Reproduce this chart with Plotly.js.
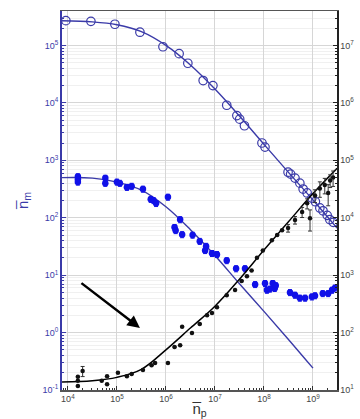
<!DOCTYPE html>
<html>
<head>
<meta charset="utf-8">
<script src="https://cdn.plot.ly/plotly-3.0.1.min.js"></script>
<style>html,body{margin:0;padding:0;background:#fff;}#chart{width:360px;height:419px;}</style>
</head>
<body>
<div id="chart"></div>
<script>
// Upper series: open circles (left axis units)
const openX = [9.1e3, 2.95e4, 9.1e4, 2.95e5, 8.7e5, 1.86e6, 2.8e6, 5.75e6, 9.1e6, 1.74e7, 2.8e7, 3.2e7, 4.0e7, 9.1e7, 1.05e8, 3.1e8, 3.5e8, 4.3e8, 5.4e8, 6.3e8, 7.6e8, 9.5e8, 1.12e9, 1.38e9, 1.6e9, 1.95e9, 2.2e9, 2.6e9];
const openY = [2.7e5, 2.63e5, 2.34e5, 1.70e5, 9.5e4, 7.2e4, 4.9e4, 2.45e4, 2.0e4, 9.1e3, 6.0e3, 5.2e3, 4.0e3, 2.0e3, 1.7e3, 620, 575, 490, 400, 316, 270, 220, 190, 148, 132, 110, 93, 83];
const openFitX = [7.6e3, 3.16e4, 1e5, 3.16e5, 1e6, 3.16e6, 1e7, 3.16e7, 1e8, 3.16e8, 1e9, 3.1e9];
const openFitY = [2.69e5, 2.57e5, 2.29e5, 1.74e5, 1.0e5, 4.57e4, 1.74e4, 5.9e3, 1.9e3, 617, 204, 66];

// Filled blue dots (left axis units)
const blueX = [1.6e4, 1.6e4, 1.6e4, 5.8e4, 5.8e4, 1e5, 1.15e5, 1.6e5, 2.0e5, 3.4e5, 4.9e5, 5.6e5, 6.3e5, 1.1e6, 1.5e6, 1.58e6, 1.95e6, 2.14e6, 3.5e6, 4.9e6, 6.3e6, 6.6e6, 8.7e6, 1.1e7, 1.74e7, 2.7e7, 4.1e7, 6.6e7, 1.05e8, 1.15e8, 1.32e8, 1.51e8, 1.66e8, 1.74e8, 3.4e8, 4.3e8, 5.4e8, 6.9e8, 9.5e8, 1.1e9, 1.58e9, 2.04e9, 2.45e9, 2.8e9];
const blueY = [520, 470, 420, 490, 400, 420, 400, 340, 355, 316, 210, 200, 178, 229, 68, 60, 93, 51, 50, 39, 27, 32, 24, 23, 18, 13, 13, 6.9, 7.2, 5.5, 5.75, 7.2, 5.9, 6.6, 5.0, 4.5, 4.0, 4.0, 4.2, 4.4, 4.8, 4.8, 5.5, 6.0];
const blueFitX = [7.6e3, 3.16e4, 1e5, 3.16e5, 1e6, 3.16e6, 1e7, 3.16e7, 1e8, 3.16e8, 1e9];
const blueFitY = [500, 490, 417, 302, 155, 62, 22, 7.1, 2.34, 0.76, 0.24];

// Black dots (right axis units)
const blackX = [1.6e4, 1.6e4, 1.6e4, 2.0e4, 4.9e4, 6.3e4, 6.3e4, 1.05e5, 1.6e5, 2.0e5, 3.4e5, 5.1e5, 6.0e5, 1.1e6, 1.5e6, 1.95e6, 2.14e6, 3.4e6, 4.9e6, 6.9e6, 8.7e6, 1.1e7, 1.74e7, 2.57e7, 3.5e7, 4.5e7, 5.6e7, 7.2e7, 9.5e7, 1.45e8, 1.86e8, 2.34e8, 3.1e8, 4.3e8, 6.0e8, 7.6e8, 8.7e8, 1.1e9, 1.38e9, 1.74e9, 2.04e9, 2.24e9, 2.57e9];
const blackY = [17, 14.5, 11.7, 21.4, 14.5, 17.4, 12.6, 20, 17.4, 19, 22.4, 27, 29.5, 29.5, 56, 60, 126, 98, 141, 200, 219, 275, 447, 550, 794, 955, 1200, 2000, 2690, 4070, 5010, 6030, 6600, 9120, 12600, 17800, 9770, 24500, 32400, 37200, 26900, 44700, 50100];
const blackErrPct = [0, 0, 0, 20, 0, 0, 0, 0, 0, 0, 0, 0, 0, 0, 0, 0, 0, 0, 0, 0, 0, 0, 0, 0, 0, 0, 0, 0, 0, 0, 0, 0, 15, 15, 20, 20, 40, 25, 30, 30, 40, 25, 30];
const blackFitX = [7.6e3, 3.16e4, 1e5, 3.16e5, 1e6, 3.16e6, 1e7, 3.16e7, 1e8, 3.16e8, 1e9, 3.1e9];
const blackFitY = [13.8, 14.5, 16.6, 22.9, 50, 120, 288, 851, 2750, 8510, 26300, 72400];

// Tick labels
const xTickVals = [1e4, 1e5, 1e6, 1e7, 1e8, 1e9];
const xTickText = ['10<sup>4</sup>', '10<sup>5</sup>', '10<sup>6</sup>', '10<sup>7</sup>', '10<sup>8</sup>', '10<sup>9</sup>'];
const yTickVals = [0.1, 1, 10, 100, 1e3, 1e4, 1e5];
const yTickText = ['10<sup>-1</sup>', '10<sup>0</sup>', '10<sup>1</sup>', '10<sup>2</sup>', '10<sup>3</sup>', '10<sup>4</sup>', '10<sup>5</sup>'];
const y2TickVals = [10, 100, 1e3, 1e4, 1e5, 1e6, 1e7];
const y2TickText = ['10<sup>1</sup>', '10<sup>2</sup>', '10<sup>3</sup>', '10<sup>4</sup>', '10<sup>5</sup>', '10<sup>6</sup>', '10<sup>7</sup>'];

const navy = '#3a3aa8';
const blue = '#1010e8';

const traces = [
  {x: openFitX, y: openFitY, mode: 'lines', line: {color: navy, width: 1.4, shape: 'spline'}},
  {x: openX, y: openY, mode: 'markers', marker: {symbol: 'circle-open', size: 8.5, color: navy, line: {width: 1.2, color: navy}}},
  {x: blueFitX, y: blueFitY, mode: 'lines', line: {color: navy, width: 1.4, shape: 'spline'}},
  {x: blueX, y: blueY, mode: 'markers', marker: {symbol: 'circle', size: 6.5, color: blue},
   error_y: {type: 'percent', value: 12, color: blue, thickness: 1, width: 2}},
  {x: blackFitX, y: blackFitY, yaxis: 'y2', mode: 'lines', line: {color: '#000', width: 1.5, shape: 'spline'}},
  {x: blackX, y: blackY, yaxis: 'y2', mode: 'markers', marker: {symbol: 'circle', size: 4.5, color: '#111'},
   error_y: {type: 'data', array: blackY.map((v, i) => v * blackErrPct[i] / 100), color: '#333', thickness: 1, width: 2}}
];

const layout = {
  width: 360, height: 419,
  margin: {l: 62, r: 23, t: 11, b: 29},
  paper_bgcolor: '#fff', plot_bgcolor: '#fff',
  showlegend: false,
  font: {family: 'Arial, Liberation Sans, sans-serif', size: 9, color: '#444'},
  xaxis: {
    type: 'log', range: [3.88, 9.49], tickmode: 'array', tickvals: xTickVals, ticktext: xTickText,
    showgrid: true, gridcolor: '#d6d6d6', gridwidth: 1,
    showline: true, linecolor: '#555', linewidth: 1.5, mirror: true,
    ticks: 'inside', ticklen: 4, tickcolor: '#333',
    minor: {dtick: 'D1', ticks: 'inside', ticklen: 2, tickcolor: '#333', showgrid: false},
    tickfont: {size: 9, color: '#444'},
    zeroline: false, automargin: false,
    title: {text: 'n\u0305<sub>p</sub>', font: {size: 15, color: '#333'}, standoff: 2}
  },
  yaxis: {
    type: 'log', range: [-1, 5.6], tickmode: 'array', tickvals: yTickVals, ticktext: yTickText,
    showgrid: true, gridcolor: '#d6d6d6',
    showline: true, linecolor: navy, linewidth: 2,
    ticks: 'inside', ticklen: 4, tickcolor: navy,
    minor: {dtick: 'D1', ticks: 'inside', ticklen: 2, tickcolor: navy, showgrid: true, gridcolor: '#f0f0f0'},
    tickfont: {size: 9, color: navy},
    zeroline: false, automargin: false,
    title: {text: 'n\u0305<sub>m</sub>', font: {size: 15, color: navy}, standoff: 10}
  },
  yaxis2: {
    type: 'log', range: [1, 7.6], tickmode: 'array', tickvals: y2TickVals, ticktext: y2TickText,
    overlaying: 'y', side: 'right', showgrid: false,
    showline: true, linecolor: '#222', linewidth: 1.5,
    ticks: 'inside', ticklen: 4, tickcolor: '#222',
    minor: {dtick: 'D1', ticks: 'inside', ticklen: 2, tickcolor: '#222'},
    tickfont: {size: 9, color: '#444'},
    zeroline: false, automargin: false
  },
  annotations: [{
    x: 5.47, y: 0.08, xref: 'x', yref: 'y', text: '', showarrow: true,
    ax: -60, ay: -46, arrowhead: 2, arrowsize: 1, arrowwidth: 2.5, arrowcolor: '#000'
  }]
};

Plotly.newPlot('chart', traces, layout, {displayModeBar: false, staticPlot: true});
</script>
</body>
</html>
